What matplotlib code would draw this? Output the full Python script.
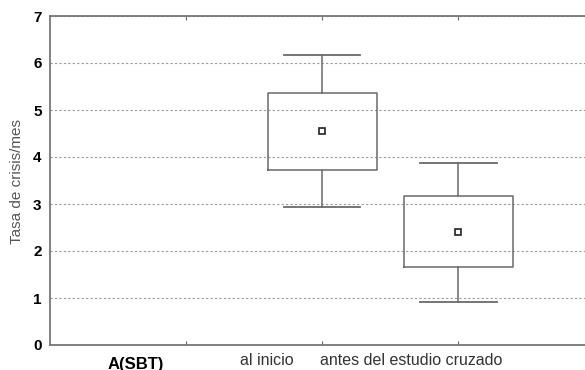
import matplotlib
matplotlib.use('Agg')
import matplotlib.pyplot as plt

# valores (media, +-EE caja, +-DE bigotes)
positions = [2, 3]
means = [4.56, 2.40]
box_low = [3.73, 1.66]
box_high = [5.37, 3.16]
whisk_low = [2.93, 0.91]
whisk_high = [6.17, 3.87]

yticks = [0, 1, 2, 3, 4, 5, 6, 7]
ylabel = 'Tasa de crisis/mes'
group_labels = ['A(SBT)', 'al inicio', 'antes del estudio cruzado']
label_x = [0.63, 1.59, 2.65]

line_col = '#6a6a6a'

fig = plt.figure(figsize=(5.85, 3.70), dpi=100)
ax = fig.add_axes([50 / 585, 25 / 370, 1 - 50 / 585, 329 / 370])

stats = []
for i in range(len(means)):
    stats.append({'med': means[i], 'mean': means[i],
                  'q1': box_low[i], 'q3': box_high[i],
                  'whislo': whisk_low[i], 'whishi': whisk_high[i]})

ax.bxp(stats, positions=positions, widths=0.8, capwidths=0.56,
       showmeans=True, showfliers=False,
       boxprops=dict(color=line_col, linewidth=1.1),
       whiskerprops=dict(color=line_col, linewidth=1.1),
       capprops=dict(color=line_col, linewidth=1.3),
       medianprops=dict(linewidth=0),
       meanprops=dict(marker='s', markersize=5, markerfacecolor='white',
                      markeredgecolor='#222222', markeredgewidth=1.2),
       zorder=3)

ax.set_xlim(0, 3.93)
ax.set_ylim(0, 7)
ax.set_yticks(yticks)
ax.set_yticklabels([str(v) for v in yticks], fontsize=11, fontweight='bold',
                   family=['Liberation Sans Narrow', 'Liberation Sans', 'DejaVu Sans'])
ax.set_xticks([1, 2, 3])
ax.set_xticklabels([])
ax.tick_params(axis='x', direction='in', length=3, top=True, color=line_col)
ax.tick_params(axis='y', length=0, pad=6)

ax.yaxis.grid(True, linestyle=(0, (2, 2)), color='#9a9a9a', linewidth=0.8)
ax.set_axisbelow(True)

for s in ['left', 'bottom', 'top']:
    ax.spines[s].set_color('#777777')
    ax.spines[s].set_linewidth(1.3)
ax.spines['right'].set_visible(False)

fig.text(17 / 585, 1 - 181 / 370, ylabel, rotation=90, ha='center', va='center',
         fontsize=11, color='#555555', family=['Liberation Sans', 'DejaVu Sans'])

trans = ax.get_xaxis_transform()
ax.text(label_x[0], -0.037, group_labels[0], transform=trans, ha='center', va='top',
        fontsize=12, fontweight='bold', family=['Liberation Sans', 'DejaVu Sans'])
ax.text(label_x[1], -0.025, group_labels[1], transform=trans, ha='center', va='top',
        fontsize=11.5, color='#333333', family=['Liberation Sans Narrow', 'Liberation Sans', 'DejaVu Sans'])
ax.text(label_x[2], -0.025, group_labels[2], transform=trans, ha='center', va='top',
        fontsize=11.5, color='#333333', family=['Liberation Sans Narrow', 'Liberation Sans', 'DejaVu Sans'])

fig.savefig('out.png', dpi=100)
